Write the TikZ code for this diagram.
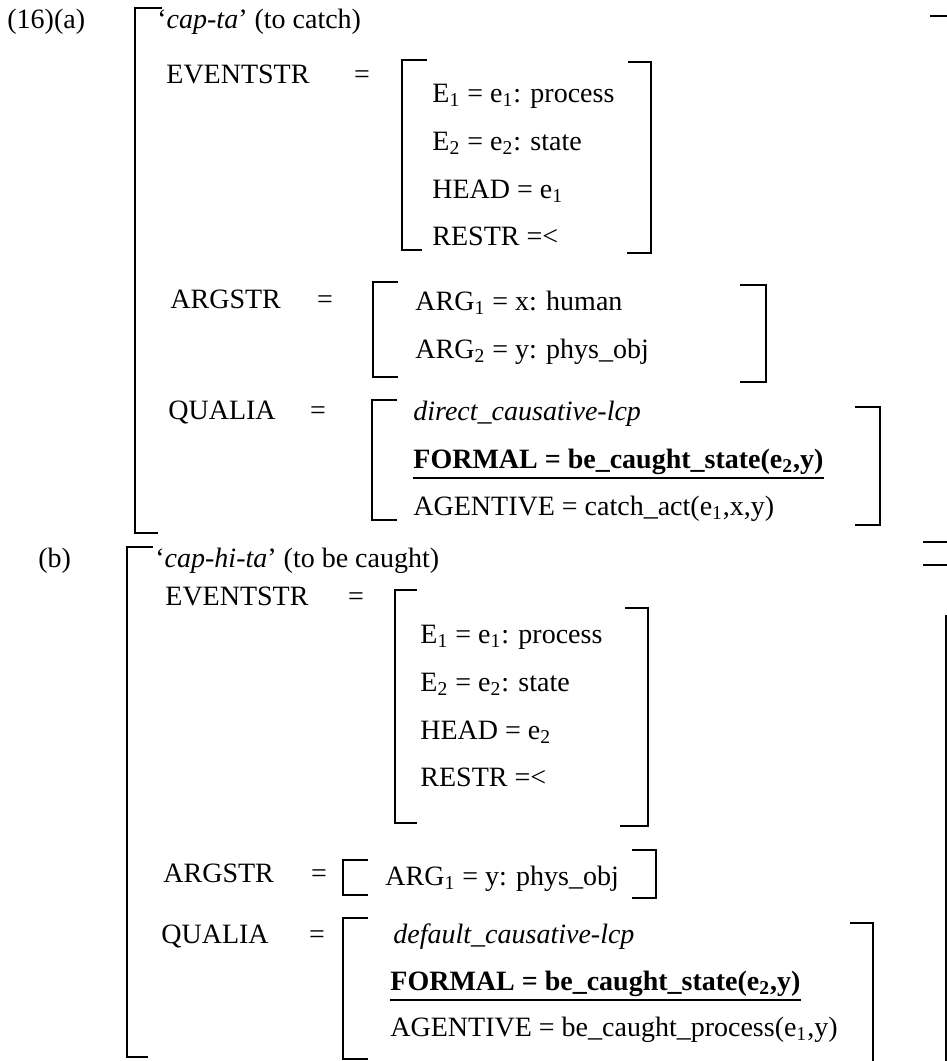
\documentclass[tikz,border=0pt]{standalone}
\usepackage{fontspec}
\setmainfont{Liberation Serif}

\begin{document}
\begin{tikzpicture}[x=0.5pt, y=-0.5pt,
    txt/.style={anchor=base west, inner sep=0pt, font=\fontsize{14}{16}\selectfont},
    eq/.style={txt, anchor=base},
    brk/.style={line width=1.2pt}
]
\useasboundingbox (0,0) rectangle (947,1061);

% (a) cap-ta
\node[txt] (numA) at (7,28) {(16)(a)};
\node[txt] (titleA) at (157,28) {‘\textit{cap-ta}’ (to catch)};
\node[txt] (evA) at (166,83) {EVENTSTR};
\node[eq] (evAeq) at (362,83) {=};
\node[txt] (e1A) at (432,102) {E\textsubscript{1} = e\textsubscript{1}: process};
\node[txt] (e2A) at (432,150) {E\textsubscript{2} = e\textsubscript{2}: state};
\node[txt] (headA) at (432,198) {HEAD = e\textsubscript{1}};
\node[txt] (restrA) at (432,245) {RESTR =<};
\node[txt] (argA) at (170,308) {ARGSTR};
\node[eq] (argAeq) at (325,308) {=};
\node[txt] (arg1A) at (415,310) {ARG\textsubscript{1} = x: human};
\node[txt] (arg2A) at (415,358) {ARG\textsubscript{2} = y: phys\_obj};
\node[txt] (qualA) at (168,419) {QUALIA};
\node[eq] (qualAeq) at (318,419) {=};
\node[txt] (lcpA) at (413,420) {\textit{direct\_causative-lcp}};
\node[txt] (formA) at (413,468) {\textbf{FORMAL = be\_caught\_state(e\textsubscript{2},y)}};
\node[txt] (agA) at (413,515) {AGENTIVE = catch\_act(e\textsubscript{1},x,y)};
\draw[line width=1pt] ([yshift=-5pt]formA.base west) -- ([yshift=-5pt]formA.base east);

% brackets (a)
\draw[brk] (162,8) -- (135,8) -- (135,533) -- (158,533);
\draw[brk] (930,16) -- (952,16) -- (952,542) -- (923,542);
\draw[brk] (427,60) -- (402,60) -- (402,250) -- (422,250);
\draw[brk] (628,62) -- (651,62) -- (651,253) -- (627,253);
\draw[brk] (398,282) -- (373,282) -- (373,377) -- (398,377);
\draw[brk] (740,285) -- (766,285) -- (766,382) -- (740,382);
\draw[brk] (397,400) -- (372,400) -- (372,520) -- (397,520);
\draw[brk] (855,407) -- (880,407) -- (880,525) -- (855,525);

% (b) cap-hi-ta
\node[txt] (numB) at (38,567) {(b)};
\node[txt] (titleB) at (155,567) {‘\textit{cap-hi-ta}’ (to be caught)};
\node[txt] (evB) at (165,605) {EVENTSTR};
\node[eq] (evBeq) at (356,605) {=};
\node[txt] (e1B) at (420,643) {E\textsubscript{1} = e\textsubscript{1}: process};
\node[txt] (e2B) at (420,691) {E\textsubscript{2} = e\textsubscript{2}: state};
\node[txt] (headB) at (420,739) {HEAD = e\textsubscript{2}};
\node[txt] (restrB) at (420,786) {RESTR =<};
\node[txt] (argB) at (163,882) {ARGSTR};
\node[eq] (argBeq) at (319,882) {=};
\node[txt] (arg1B) at (385,885) {ARG\textsubscript{1} = y: phys\_obj};
\node[txt] (qualB) at (161,943) {QUALIA};
\node[eq] (qualBeq) at (317,943) {=};
\node[txt] (lcpB) at (393,943) {\textit{default\_causative-lcp}};
\node[txt] (formB) at (390,990) {\textbf{FORMAL = be\_caught\_state(e\textsubscript{2},y)}};
\node[txt] (agB) at (390,1036) {AGENTIVE = be\_caught\_process(e\textsubscript{1},y)};
\draw[line width=1pt] ([yshift=-5pt]formB.base west) -- ([yshift=-5pt]formB.base east);

% brackets (b)
\draw[brk] (153,547) -- (127,547) -- (127,1057) -- (148,1057);
\draw[brk] (923,565) -- (952,565);
\draw[brk] (946,615) -- (946,1065);
\draw[brk] (417,590) -- (395,590) -- (395,823) -- (417,823);
\draw[brk] (625,608) -- (648,608) -- (648,826) -- (620,826);
\draw[brk] (368,860) -- (343,860) -- (343,895) -- (368,895);
\draw[brk] (632,850) -- (656,850) -- (656,898) -- (632,898);
\draw[brk] (368,918) -- (343,918) -- (343,1059) -- (368,1059);
\draw[brk] (850,923) -- (873,923) -- (873,1065);

\end{tikzpicture}
\end{document}
